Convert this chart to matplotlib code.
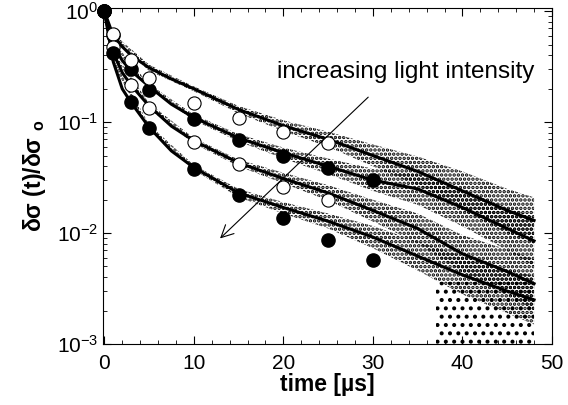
import matplotlib
matplotlib.use("Agg")
import matplotlib.pyplot as plt
import numpy as np

plt.rcParams['font.family'] = ['Liberation Sans', 'DejaVu Sans']
plt.rcParams['mathtext.fontset'] = 'custom'
plt.rcParams['mathtext.rm'] = 'Liberation Sans'
plt.rcParams['mathtext.bf'] = 'Liberation Sans:bold'
plt.rcParams['hatch.linewidth'] = 1.7

# fitted curves
fit_x = [0, 1, 2, 3, 5, 7.5, 10, 15, 20, 25, 30, 35, 40, 45, 48]
fit_a = [1, 0.60, 0.48, 0.40, 0.31, 0.245, 0.20, 0.13, 0.093, 0.07, 0.05, 0.036, 0.024, 0.016, 0.013]
fit_b = [1, 0.50, 0.36, 0.29, 0.21, 0.145, 0.11, 0.072, 0.053, 0.040, 0.030, 0.025, 0.017, 0.011, 0.0085]
fit_c = [1, 0.42, 0.28, 0.215, 0.14, 0.092, 0.068, 0.043, 0.031, 0.023, 0.016, 0.011, 0.0065, 0.0045, 0.0035]
fit_d = [1, 0.35, 0.20, 0.15, 0.09, 0.055, 0.039, 0.023, 0.017, 0.0128, 0.0092, 0.0062, 0.0042, 0.003, 0.0025]

# spread of the measured transients (lower / upper edge)
band_x = [1, 5, 10, 15, 20, 25, 30, 35, 40, 45, 48]
band_a_lo = [0.57, 0.29, 0.19, 0.12, 0.083, 0.06, 0.04, 0.027, 0.016, 0.010, 0.008]
band_a_hi = [0.63, 0.33, 0.21, 0.14, 0.104, 0.082, 0.063, 0.049, 0.036, 0.025, 0.021]
band_b_lo = [0.47, 0.20, 0.104, 0.067, 0.047, 0.034, 0.024, 0.018, 0.0115, 0.007, 0.005]
band_b_hi = [0.53, 0.22, 0.117, 0.078, 0.059, 0.047, 0.038, 0.034, 0.025, 0.017, 0.014]
band_c_lo = [0.40, 0.132, 0.064, 0.040, 0.028, 0.0197, 0.0127, 0.0081, 0.0044, 0.0028, 0.002]
band_c_hi = [0.44, 0.148, 0.072, 0.046, 0.035, 0.027, 0.020, 0.015, 0.0096, 0.0071, 0.0058]
band_d_lo = [0.33, 0.085, 0.037, 0.021, 0.015, 0.011, 0.0073, 0.0046, 0.0028, 0.0019, 0.0015]
band_d_hi = [0.37, 0.095, 0.041, 0.025, 0.019, 0.015, 0.0116, 0.0084, 0.0062, 0.0047, 0.0041]

# noise floor
floor_x = [37, 48]
floor_lo = [0.001, 0.001]
floor_hi = [0.0036, 0.0036]

# simulation points
pts_a_x = [0, 1, 3, 5, 10, 15, 20, 25]
pts_a_y = [1, 0.63, 0.36, 0.25, 0.148, 0.109, 0.081, 0.065]
pts_b_x = [0, 1, 3, 5, 10, 15, 20, 25, 30]
pts_b_y = [1, 0.61, 0.30, 0.195, 0.107, 0.069, 0.050, 0.039, 0.030]
pts_c_x = [0, 1, 3, 5, 10, 15, 20, 25]
pts_c_y = [1, 0.48, 0.215, 0.134, 0.066, 0.042, 0.026, 0.020]
pts_d_x = [0, 1, 3, 5, 10, 15, 20, 25, 30]
pts_d_y = [1, 0.42, 0.151, 0.088, 0.038, 0.022, 0.0136, 0.0087, 0.0057]

fig = plt.figure(figsize=(5.68, 4.05), dpi=100)
ax = fig.add_axes([0.1813, 0.1506, 0.7905, 0.8296])

for lo, hi in [(band_a_lo, band_a_hi), (band_b_lo, band_b_hi),
               (band_c_lo, band_c_hi), (band_d_lo, band_d_hi)]:
    ax.fill_between(band_x, lo, hi, facecolor='none', edgecolor='black',
                    linewidth=0, hatch='....', zorder=2)
ax.fill_between(floor_x, floor_lo, floor_hi, facecolor='none', edgecolor='black',
                linewidth=0, hatch='..', zorder=2)

for f in [fit_a, fit_b, fit_c, fit_d]:
    ax.plot(fit_x, f, color='black', lw=2.2, zorder=2.5)

ms = 9.5
ax.plot(pts_b_x, pts_b_y, 'o', mfc='black', mec='black', ms=ms, zorder=3,
        clip_on=False)
ax.plot(pts_a_x, pts_a_y, 'o', mfc='white', mec='black', mew=0.8, ms=ms,
        zorder=3, clip_on=False)
ax.plot(pts_c_x, pts_c_y, 'o', mfc='white', mec='black', mew=0.8, ms=ms,
        zorder=3, clip_on=False)
ax.plot(pts_d_x, pts_d_y, 'o', mfc='black', mec='black', ms=ms, zorder=3,
        clip_on=False)

ax.annotate('', xy=(12.7, 0.0086), xytext=(29.7, 0.175),
            arrowprops=dict(arrowstyle='->', lw=0.8, color='black',
                            mutation_scale=22), zorder=4)
ax.text(19.3, 0.249, 'increasing light intensity', fontsize=17.5,
        ha='left', va='baseline', zorder=5)

ax.set_yscale('log')
ax.set_xlim(-0.15, 50)
ax.set_ylim(1e-3, 1.07)
ax.set_xticks([0, 10, 20, 30, 40, 50])
ax.set_xticks(np.arange(0, 51, 2), minor=True)
ax.tick_params(which='both', direction='in', top=True, right=True,
               labelsize=15)
ax.tick_params(which='major', length=6, width=0.8)
ax.tick_params(which='minor', length=3, width=0.6)
ax.tick_params(axis='x', pad=7)

ax.set_xlabel('time [µs]', fontsize=16.5, fontweight='bold', labelpad=0)
ax.set_ylabel(r'δσ (t)/δσ $_{\mathbf{o}}$', fontsize=16.5, fontweight='bold',
              labelpad=6)

fig.savefig('out.png', dpi=100)
